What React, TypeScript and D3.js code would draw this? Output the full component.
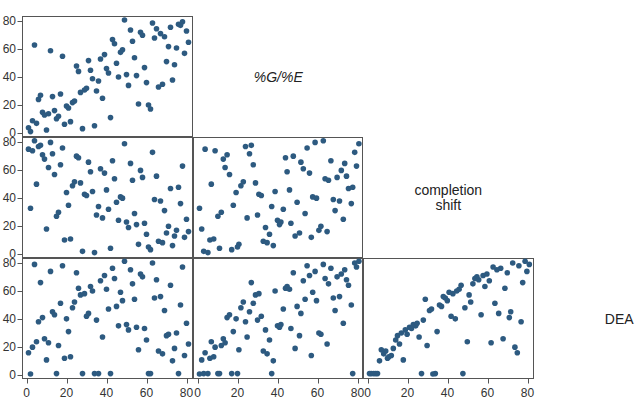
import React from 'react'
import * as d3 from 'd3'

// observation order (x of the first column)
const obsOrder = [
  1, 2, 3, 4, 5, 6, 7, 8, 9, 10, 11, 12, 13, 14, 15, 16, 17, 18, 19, 20,
  21, 22, 23, 24, 25, 26, 27, 28, 29, 30, 31, 32, 33, 34, 35, 36, 37, 38, 39, 40,
  41, 42, 43, 44, 45, 46, 47, 48, 49, 50, 51, 52, 53, 54, 55, 56, 57, 58, 59, 60,
  61, 62, 63, 64, 65, 66, 67, 68, 69, 70, 71, 72, 73, 74, 75, 76, 77, 78, 79, 80, 81,
]

const pctGE = [
  3.8, 1, 8.8, 62.9, 6.9, 24, 26.9, 14.8, 12.9, 2.1, 13.8, 58.8, 26, 16, 10.2, 11.9, 27.9, 54.8, 6.2, 19.3,
  17.9, 8.1, 21.7, 22.9, 47.9, 44, 29, 3.1, 30.7, 31.9, 51.7, 44.8, 38.8, 5.2, 30, 37.1, 52.9, 24.8, 56, 46,
  42.9, 11, 66.7, 63.8, 49.8, 40, 57.6, 59.5, 80.7, 41.7, 34, 73.6, 65.5, 53.8, 41, 20.7, 71.9, 69.8, 46.7, 36,
  20, 17.1, 78.6, 67.9, 74.5, 32.9, 71, 34.8, 68.8, 51, 61.7, 75.5, 37.9, 48.8, 60.7, 77.6, 76.9, 79.5, 56.9, 72.9, 64.8,
]

const completionShift = [
  74.9, 32.7, 73.7, 80.9, 49.9, 76.8, 77.6, 70.9, 67.8, 17.9, 61.8, 79.7, 71.6, 56.8, 27, 29.8, 63.7, 75.7, 10, 43.9,
  34.8, 10.7, 48.7, 51.6, 69.9, 68.7, 50.8, 1.9, 42.7, 41.8, 65.6, 58.7, 44.6, 1, 27.9, 33.9, 60.9, 25.8, 57.8, 45.8,
  32, 4.1, 66.6, 53.7, 37, 24.1, 40.8, 39.9, 78.8, 22.9, 18.9, 64.7, 52.7, 28.9, 21, 6.9, 59.7, 54.7, 22, 14.1,
  5, 3.1, 72.6, 38.9, 55.6, 9.1, 37.9, 8.1, 31, 15, 19.8, 46.8, 6, 12.9, 16.9, 47.7, 36, 62.8, 11.9, 24.8, 16,
]

const dea = [
  15.9, 0.7, 19.9, 79, 23.8, 38, 66, 41, 25.9, 10.8, 23, 74, 45.2, 43, 1, 21.1, 51.2, 78, 12, 40.1,
  31, 13, 48, 52.1, 73, 62, 57.2, 1, 58.1, 42, 44, 63.2, 60, 1, 39.2, 1, 67.3, 27.1, 71.1, 61.3,
  47.1, 1, 76.2, 68.9, 49, 35.1, 59.1, 53.1, 81.2, 36, 32.2, 75.2, 65.1, 54.1, 34.1, 18, 72.1, 70.1, 33.2, 25,
  1, 1, 80, 55, 68, 17.1, 56, 15.1, 46.1, 28.1, 29.1, 64.1, 10.1, 19, 30, 1, 50, 77.1, 13.9, 37, 22.1,
]

const varLabels = [[''], ['%G/%E'], ['completion', 'shift'], ['DEA']]
const tickValues = [0, 20, 40, 60, 80]

export default function App() {
  const width = 635
  const height = 414
  const left = 22
  const top = 16
  const cellW = 170.5
  const cellH = 121
  const font = "'Liberation Sans', Arial, sans-serif"

  const vars = [obsOrder, pctGE, completionShift, dea]

  const colX = (c: number) => Math.round(left + c * cellW)
  const rowY = (r: number) => Math.round(top + (r - 1) * cellH)

  const xScale = (c: number) => d3.scaleLinear().domain([0, 80]).range([colX(c) + 4.5, colX(c) + 164.5])
  const yScale = (r: number) => d3.scaleLinear().domain([0, 80]).range([rowY(r) + 117, rowY(r) + 5])

  const panels: JSX.Element[] = []
  for (let r = 1; r < 4; r++) {
    for (let c = 0; c < r; c++) {
      const x = xScale(c)
      const y = yScale(r)
      const x0 = colX(c), x1 = colX(c + 1)
      const y0 = rowY(r), y1 = rowY(r + 1)
      panels.push(
        <g key={`p${r}${c}`}>
          <rect x={x0 + 0.5} y={y0 + 0.5} width={x1 - x0 - 1} height={y1 - y0 - 1}
            fill="#fff" stroke="#555" strokeWidth={1} />
          {vars[c].map((v, i) => (
            <circle key={i} cx={x(v)} cy={y(vars[r][i])} r={2.8} fill="#2d5a80" />
          ))}
        </g>
      )
    }
  }

  // y axes on the first column
  const yAxes = [1, 2, 3].map(r => {
    const y = yScale(r)
    const x0 = colX(0)
    return (
      <g key={`ya${r}`}>
        {tickValues.map(t => (
          <g key={t}>
            <line x1={x0 - 4.5} x2={x0 + 0.5} y1={Math.round(y(t)) + 0.5} y2={Math.round(y(t)) + 0.5} stroke="#555" />
            <text x={16} y={y(t)} dy="0.35em" textAnchor="end" fontSize={12} fill="#333" fontFamily={font}>{t}</text>
          </g>
        ))}
      </g>
    )
  })

  // x axes under the last row
  const bottom = rowY(4)
  const xAxes = [0, 1, 2].map(c => {
    const x = xScale(c)
    return (
      <g key={`xa${c}`}>
        {tickValues.map(t => (
          <g key={t}>
            <line x1={Math.round(x(t)) + 0.5} x2={Math.round(x(t)) + 0.5} y1={bottom - 0.5} y2={bottom + 4.5} stroke="#555" />
            <text x={x(t)} y={397} textAnchor="middle" fontSize={12} fill="#333" fontFamily={font}>{t}</text>
          </g>
        ))}
      </g>
    )
  })

  const labels = [1, 2, 3].map(r => {
    const lines = varLabels[r]
    const cx = colX(r) + cellW / 2
    const cy = rowY(r) + cellH / 2
    const lh = 15
    return (
      <text key={`lab${r}`} x={cx} textAnchor="middle" fontSize={14} fill="#222" fontFamily={font}
        fontStyle={r === 1 ? 'italic' : 'normal'}>
        {lines.map((s, i) => (
          <tspan key={i} x={cx} y={cy + 5 - ((lines.length - 1) * lh) / 2 + i * lh}>{s}</tspan>
        ))}
      </text>
    )
  })

  return (
    <svg width={width} height={height} style={{ position: 'absolute', left: 0, top: 0, background: '#fff' }}>
      {panels}
      {yAxes}
      {xAxes}
      {labels}
    </svg>
  )
}
